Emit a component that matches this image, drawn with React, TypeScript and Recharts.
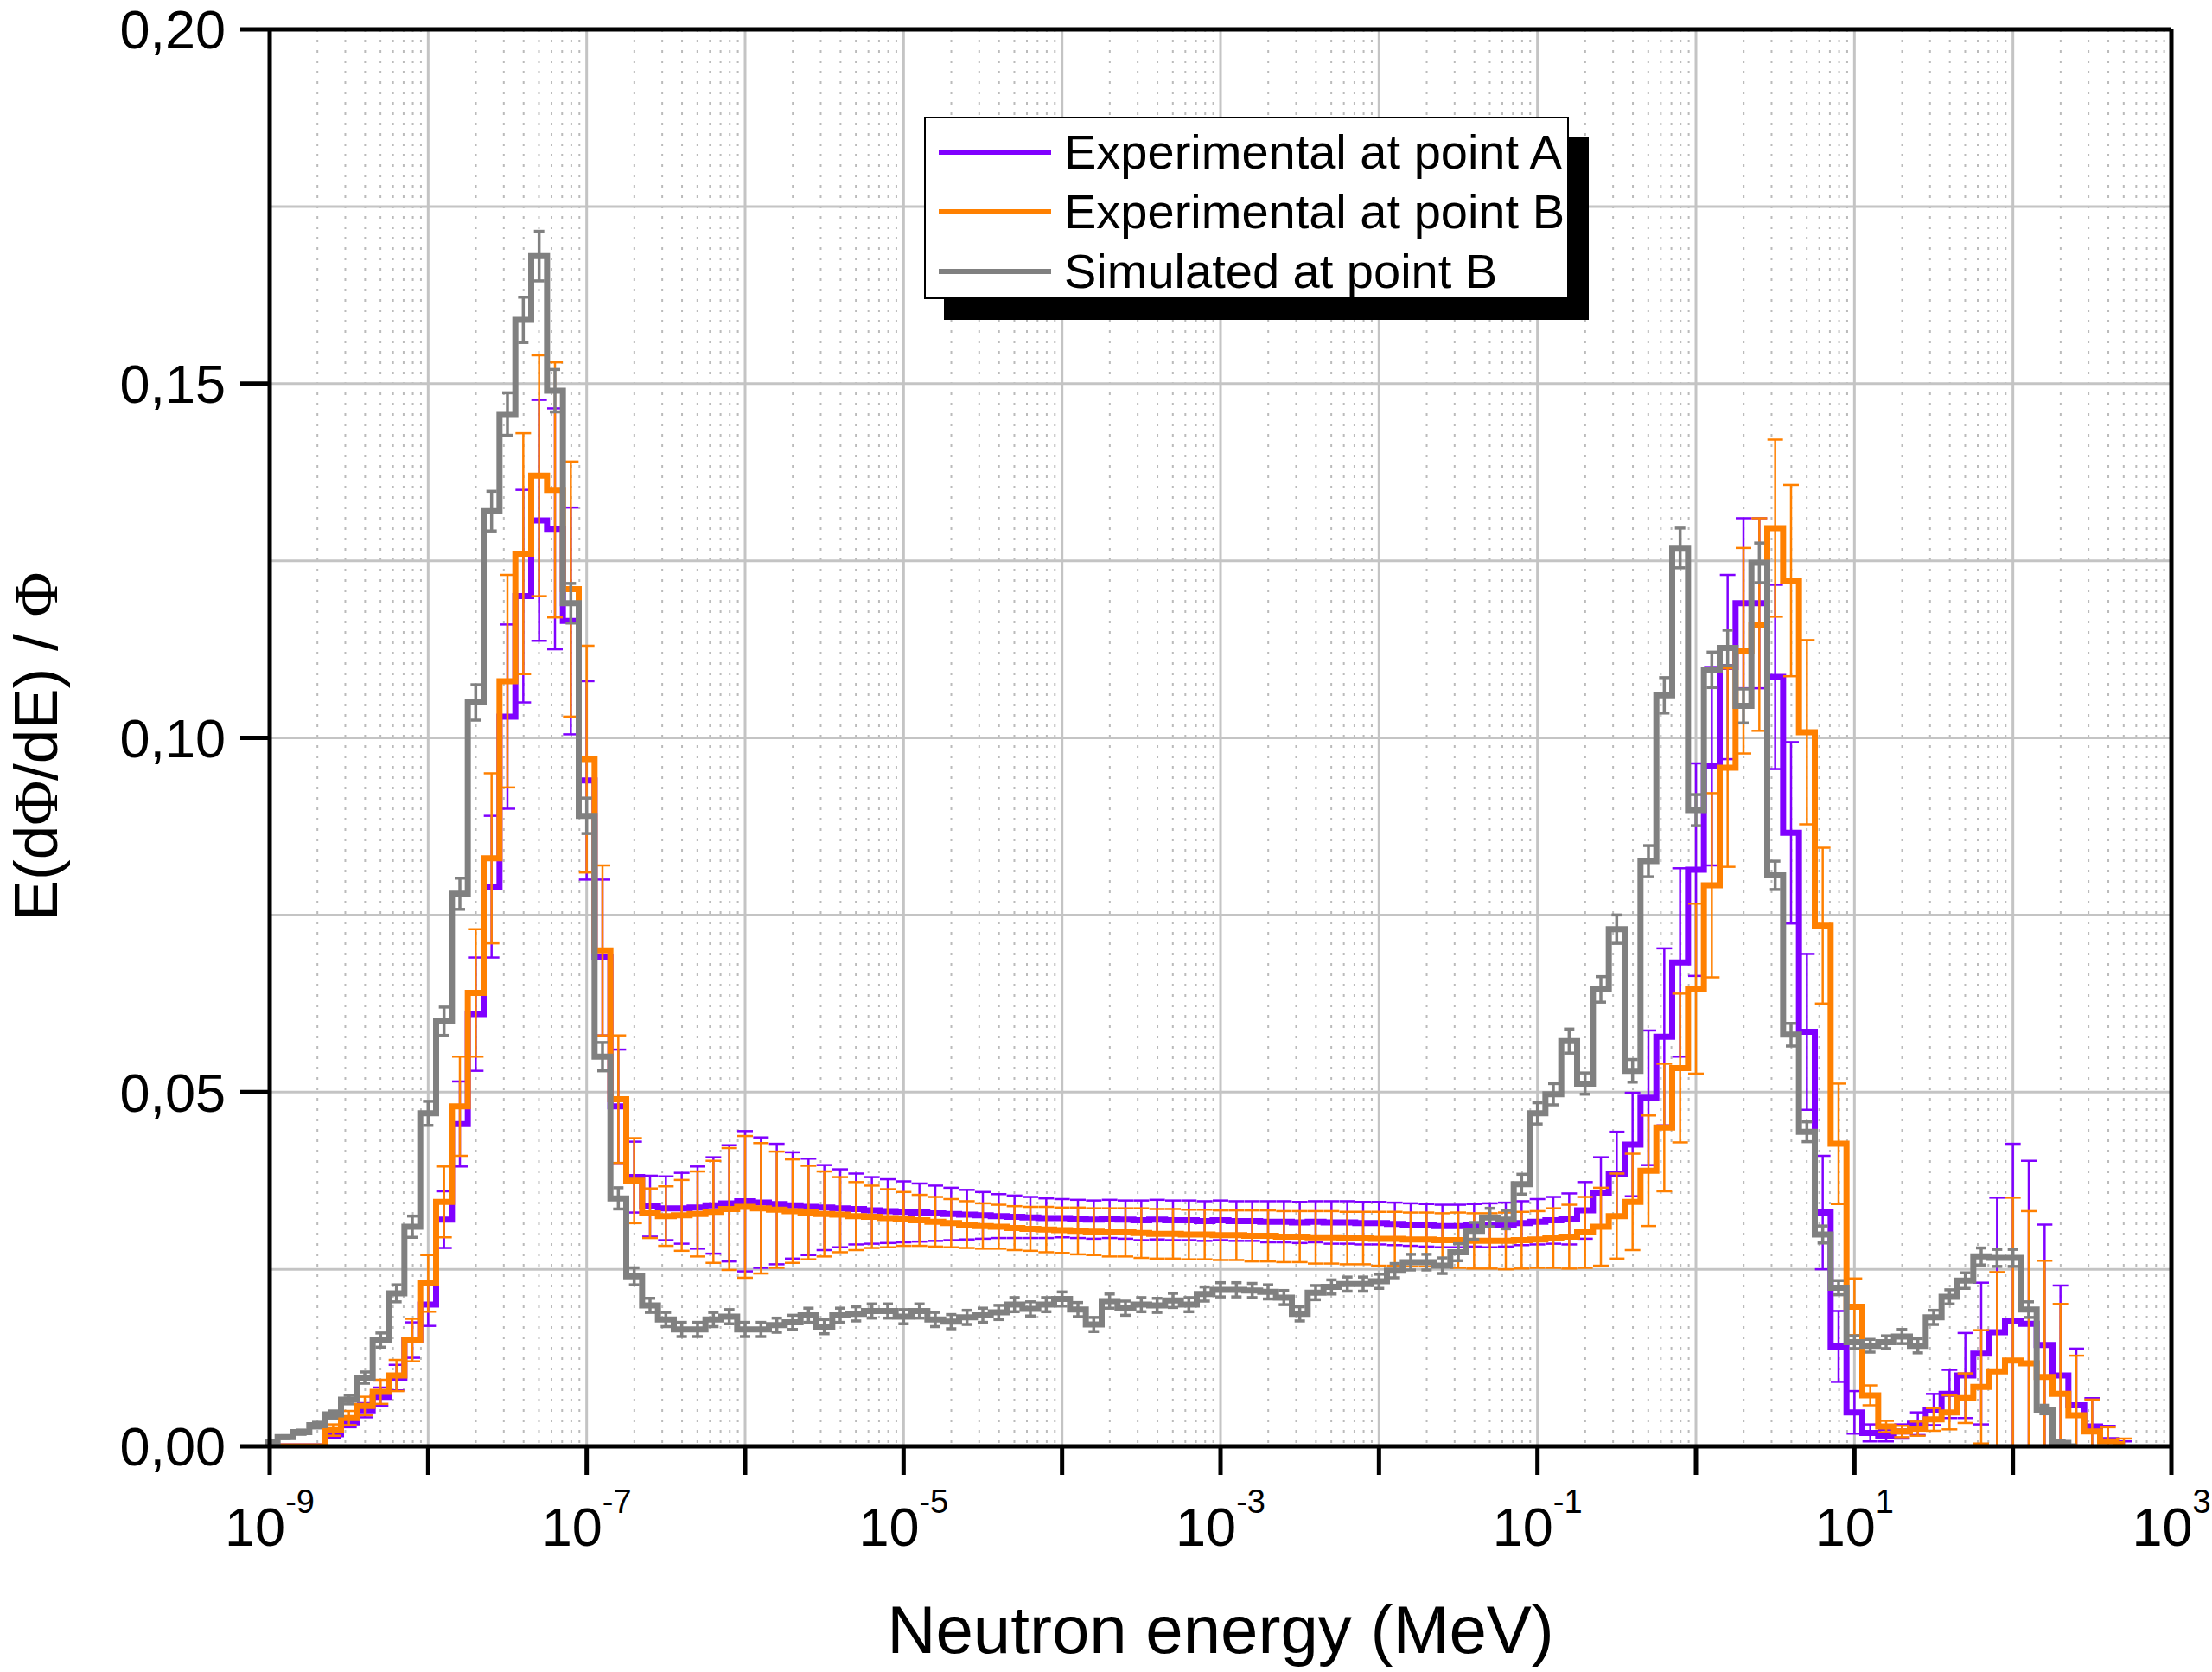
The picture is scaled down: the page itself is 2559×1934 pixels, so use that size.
import React from 'react';
import { LineChart, Line, XAxis, YAxis, CartesianGrid, ErrorBar, Legend } from 'recharts';

const FONT = '"Liberation Sans", Arial, sans-serif';
const SERIF = '"Liberation Serif", "Times New Roman", serif';

const COLOR_A = '#8000ff';
const COLOR_B = '#ff8000';
const COLOR_SIM = '#808080';

const SERIES_NAMES = ['Experimental at point A', 'Experimental at point B', 'Simulated at point B'];

// bin centres, log10(E / MeV), 10 bins per decade
const LOG_E = [
  -9.0, -8.9, -8.8, -8.7, -8.6, -8.5, -8.4, -8.3, -8.2, -8.1,
  -8.0, -7.9, -7.8, -7.7, -7.6, -7.5, -7.4, -7.3, -7.2, -7.1,
  -7.0, -6.9, -6.8, -6.7, -6.6, -6.5, -6.4, -6.3, -6.2, -6.1,
  -6.0, -5.9, -5.8, -5.7, -5.6, -5.5, -5.4, -5.3, -5.2, -5.1,
  -5.0, -4.9, -4.8, -4.7, -4.6, -4.5, -4.4, -4.3, -4.2, -4.1,
  -4.0, -3.9, -3.8, -3.7, -3.6, -3.5, -3.4, -3.3, -3.2, -3.1,
  -3.0, -2.9, -2.8, -2.7, -2.6, -2.5, -2.4, -2.3, -2.2, -2.1,
  -2.0, -1.9, -1.8, -1.7, -1.6, -1.5, -1.4, -1.3, -1.2, -1.1,
  -1.0, -0.9, -0.8, -0.7, -0.6, -0.5, -0.4, -0.3, -0.2, -0.1,
  0.0, 0.1, 0.2, 0.3, 0.4, 0.5, 0.6, 0.7, 0.8, 0.9,
  1.0, 1.1, 1.2, 1.3, 1.4, 1.5, 1.6, 1.7, 1.8, 1.9,
  2.0, 2.1, 2.2, 2.3, 2.4, 2.5, 2.6, 2.7,
];

// Experimental at point A (purple)
const EXP_A = [
  0, 0, 0, 0, 0.0017, 0.0034, 0.0051, 0.007, 0.0097, 0.015,
  0.020, 0.032, 0.0455, 0.061, 0.079, 0.103, 0.120, 0.1307, 0.1295, 0.1165,
  0.094, 0.069, 0.048, 0.038, 0.0339, 0.0336, 0.0336, 0.0337, 0.034, 0.0343,
  0.0346, 0.0344, 0.0342, 0.034, 0.0338, 0.0337, 0.0336, 0.0335, 0.0333, 0.0332,
  0.0331, 0.033, 0.0329, 0.0328, 0.0327, 0.0326, 0.0325, 0.0324, 0.0323, 0.0322,
  0.0322, 0.0321, 0.032, 0.0321, 0.032, 0.0319, 0.032, 0.0319, 0.0319, 0.0318,
  0.0319, 0.0318, 0.0318, 0.0317, 0.0317, 0.0316, 0.0317, 0.0316, 0.0316, 0.0315,
  0.0315, 0.0314, 0.0313, 0.0312, 0.0311, 0.0311, 0.0312, 0.0312, 0.0313, 0.0315,
  0.0317, 0.0319, 0.0321, 0.0333, 0.0358, 0.0384, 0.0426, 0.0492, 0.0578, 0.0683,
  0.0814, 0.096, 0.110, 0.119, 0.119, 0.1086, 0.0866, 0.0585, 0.033, 0.0141,
  0.0048, 0.0019, 0.0015, 0.0021, 0.0032, 0.0052, 0.0074, 0.010, 0.0131, 0.0161,
  0.0177, 0.0173, 0.0143, 0.010, 0.0058, 0.0028, 0.0009, 0.0002,
];
const EXP_A_ERR = [
  0, 0, 0, 0, 0.0005, 0.0007, 0.001, 0.0013, 0.0018, 0.0025,
  0.003, 0.004, 0.006, 0.008, 0.010, 0.013, 0.015, 0.017, 0.017, 0.016,
  0.014, 0.011, 0.008, 0.005, 0.0043, 0.0045, 0.005, 0.0058, 0.0068, 0.0082,
  0.0099, 0.0092, 0.0085, 0.0075, 0.0068, 0.006, 0.0055, 0.005, 0.0047, 0.0045,
  0.0043, 0.0041, 0.0039, 0.0037, 0.0035, 0.0033, 0.0031, 0.003, 0.0029, 0.0028,
  0.0027, 0.0027, 0.0027, 0.0027, 0.0027, 0.0028, 0.0028, 0.0028, 0.0028, 0.0028,
  0.0028, 0.0028, 0.0028, 0.0029, 0.0029, 0.0029, 0.0029, 0.003, 0.003, 0.003,
  0.003, 0.003, 0.003, 0.003, 0.003, 0.003, 0.003, 0.0031, 0.0031, 0.0031,
  0.0032, 0.0033, 0.0036, 0.004, 0.005, 0.006, 0.0073, 0.0095, 0.0125, 0.0133,
  0.015, 0.014, 0.013, 0.012, 0.012, 0.013, 0.0128, 0.011, 0.008, 0.005,
  0.003, 0.0012, 0.0008, 0.001, 0.0016, 0.0022, 0.0034, 0.006, 0.010, 0.019,
  0.025, 0.023, 0.017, 0.0127, 0.008, 0.004, 0.002, 0.0005,
];

// Experimental at point B (orange)
const EXP_B = [
  0, 0, 0, 0, 0.0023, 0.004, 0.0057, 0.0077, 0.010, 0.015,
  0.023, 0.0345, 0.048, 0.064, 0.083, 0.108, 0.126, 0.137, 0.135, 0.121,
  0.097, 0.070, 0.049, 0.0375, 0.0329, 0.0325, 0.0326, 0.0328, 0.0331, 0.0335,
  0.0338, 0.0336, 0.0334, 0.0332, 0.033, 0.0328, 0.0327, 0.0325, 0.0324, 0.0322,
  0.0321, 0.0319, 0.0317, 0.0315, 0.0313, 0.0311, 0.031, 0.0308, 0.0307, 0.0306,
  0.0305, 0.0304, 0.0303, 0.0302, 0.0302, 0.0301, 0.030, 0.030, 0.0299, 0.0299,
  0.0298, 0.0298, 0.0297, 0.0297, 0.0296, 0.0296, 0.0295, 0.0295, 0.0294, 0.0294,
  0.0293, 0.0293, 0.0292, 0.0292, 0.0291, 0.0291, 0.029, 0.029, 0.029, 0.0291,
  0.0292, 0.0294, 0.0296, 0.0302, 0.031, 0.0325, 0.0345, 0.0389, 0.045, 0.0534,
  0.0646, 0.0792, 0.0958, 0.1123, 0.116, 0.1296, 0.1222, 0.1008, 0.0735, 0.0427,
  0.0197, 0.0072, 0.0028, 0.0021, 0.0025, 0.0038, 0.0048, 0.0068, 0.0084, 0.0106,
  0.0121, 0.0117, 0.0098, 0.0074, 0.0044, 0.0021, 0.0007, 0.0003,
];
const EXP_B_ERR = [
  0, 0, 0, 0, 0.0008, 0.001, 0.0013, 0.0017, 0.0022, 0.003,
  0.004, 0.005, 0.007, 0.009, 0.012, 0.015, 0.017, 0.017, 0.018, 0.018,
  0.016, 0.012, 0.009, 0.006, 0.0035, 0.0042, 0.005, 0.006, 0.0072, 0.0086,
  0.010, 0.0092, 0.0082, 0.0073, 0.0066, 0.006, 0.0053, 0.0048, 0.0044, 0.0041,
  0.0038, 0.0036, 0.0035, 0.0034, 0.0033, 0.0032, 0.0031, 0.0031, 0.0031, 0.0032,
  0.0032, 0.0033, 0.0033, 0.0034, 0.0034, 0.0035, 0.0035, 0.0035, 0.0035, 0.0035,
  0.0035, 0.0035, 0.0036, 0.0036, 0.0036, 0.0036, 0.0037, 0.0037, 0.0037, 0.0037,
  0.0038, 0.0038, 0.0038, 0.0038, 0.0038, 0.0039, 0.0039, 0.0039, 0.004, 0.004,
  0.004, 0.0042, 0.0045, 0.005, 0.0055, 0.006, 0.0068, 0.0078, 0.009, 0.0105,
  0.012, 0.013, 0.014, 0.0145, 0.015, 0.0125, 0.0135, 0.013, 0.011, 0.0085,
  0.004, 0.0014, 0.0008, 0.0008, 0.001, 0.0016, 0.0024, 0.0035, 0.008, 0.014,
  0.023, 0.0215, 0.0164, 0.0127, 0.0084, 0.0045, 0.002, 0.0008,
];

// Simulated at point B (grey), ends at bin 114
const SIM_B = [
  0.0006, 0.0013, 0.002, 0.003, 0.0045, 0.0066, 0.0097, 0.015, 0.0216, 0.031,
  0.047, 0.060, 0.078, 0.105, 0.132, 0.1457, 0.159, 0.168, 0.149, 0.119,
  0.089, 0.055, 0.035, 0.024, 0.0199, 0.0179, 0.0165, 0.0165, 0.0179, 0.0183,
  0.0165, 0.0165, 0.0171, 0.0175, 0.0185, 0.0169, 0.0185, 0.0187, 0.0191, 0.0191,
  0.0183, 0.0191, 0.0179, 0.0176, 0.0182, 0.0185, 0.0189, 0.020, 0.0194, 0.020,
  0.0208, 0.0193, 0.0172, 0.0205, 0.0195, 0.020, 0.0199, 0.0206, 0.020, 0.0215,
  0.0221, 0.0221, 0.022, 0.0218, 0.021, 0.0187, 0.0217, 0.0225, 0.0229, 0.0229,
  0.0233, 0.0248, 0.026, 0.026, 0.0255, 0.0274, 0.0304, 0.0323, 0.032, 0.037,
  0.047, 0.0497, 0.0572, 0.0512, 0.0645, 0.073, 0.053, 0.0826, 0.106, 0.1268,
  0.0898, 0.1096, 0.1127, 0.1045, 0.1247, 0.0806, 0.0581, 0.0444, 0.0299, 0.0224,
  0.0147, 0.0142, 0.0147, 0.0155, 0.0142, 0.0182, 0.0211, 0.0234, 0.0268, 0.0266,
  0.0266, 0.0193, 0.0052, 0.0005, 0,
];
const SIM_B_ERR = [
  0.0002, 0.0002, 0.0003, 0.0004, 0.0005, 0.0006, 0.0008, 0.001, 0.0012, 0.0015,
  0.0017, 0.002, 0.0022, 0.0025, 0.0028, 0.003, 0.0032, 0.0035, 0.003, 0.0028,
  0.0025, 0.002, 0.0015, 0.0012, 0.001, 0.001, 0.001, 0.001, 0.001, 0.001,
  0.001, 0.001, 0.001, 0.001, 0.001, 0.001, 0.001, 0.001, 0.001, 0.001,
  0.001, 0.001, 0.001, 0.001, 0.001, 0.001, 0.001, 0.001, 0.001, 0.001,
  0.001, 0.001, 0.001, 0.001, 0.001, 0.001, 0.001, 0.001, 0.001, 0.001,
  0.001, 0.001, 0.001, 0.001, 0.001, 0.001, 0.001, 0.001, 0.001, 0.001,
  0.001, 0.001, 0.0011, 0.0011, 0.0011, 0.0012, 0.0012, 0.0013, 0.0013, 0.0014,
  0.0015, 0.0015, 0.0017, 0.0015, 0.0018, 0.002, 0.0016, 0.0022, 0.0025, 0.0028,
  0.0022, 0.0025, 0.0025, 0.0024, 0.0028, 0.002, 0.0016, 0.0014, 0.0012, 0.001,
  0.0009, 0.0009, 0.0009, 0.001, 0.001, 0.001, 0.001, 0.0011, 0.0012, 0.0012,
  0.0012, 0.0011, 0.0006, 0.0003, 0,
];

// axes
const DECADE_EXPS = [-9, -8, -7, -6, -5, -4, -3, -2, -1, 0, 1, 2, 3];
const LABELLED_EXPS = [-9, -7, -5, -3, -1, 1, 3];
const MINOR_MULTS = [2, 3, 4, 5, 6, 7, 8, 9];
const Y_MAJOR = [0, 0.05, 0.1, 0.15, 0.2];
const Y_MAJOR_LABELS = ['0,00', '0,05', '0,10', '0,15', '0,20'];
const Y_MINOR = [0.025, 0.075, 0.125, 0.175];

const X_DOMAIN = [1e-9, 1e3];
const Y_DOMAIN = [0, 0.2];
const DECADES = DECADE_EXPS.map(p => Math.pow(10, p));
const MINORS = DECADE_EXPS.slice(0, -1).flatMap(p => MINOR_MULTS.map(m => m * Math.pow(10, p)));
const Y_GRID = [...Y_MAJOR, ...Y_MINOR].sort((a, b) => a - b);

// error bars are clipped at zero like in the original plot
const lowHigh = (v: number, e: number) => [Math.min(e, v), e];

const expTable = LOG_E.map((le, i) => ({
  e: Math.pow(10, le),
  a: EXP_A[i],
  aErr: lowHigh(EXP_A[i], EXP_A_ERR[i]),
  b: EXP_B[i],
  bErr: lowHigh(EXP_B[i], EXP_B_ERR[i]),
}));
const simTable = SIM_B.map((v, i) => ({
  e: Math.pow(10, LOG_E[i]),
  s: v,
  sErr: lowHigh(v, SIM_B_ERR[i]),
}));

const axisLine = { stroke: '#000', strokeWidth: 5 };
const majorTick = { stroke: '#000', strokeWidth: 5 };
const minorTick = { stroke: '#000', strokeWidth: 4 };

const XTick = (props: any) => {
  const { x, y, payload } = props;
  const p = Math.round(Math.log10(payload.value));
  if (!LABELLED_EXPS.includes(p)) return <g />;
  return (
    <text x={x} y={y + 80} textAnchor="middle" fontSize={63} fontFamily={FONT} fill="#000">
      10<tspan dy={-38} fontSize={38}>{String(p)}</tspan>
    </text>
  );
};

const XTitle = (props: any) => {
  const vb = props.viewBox || { x: 312, y: 1673, width: 2198 };
  return (
    <text x={vb.x + vb.width / 2} y={1912} textAnchor="middle" fontSize={78} fontFamily={FONT} fill="#000">
      Neutron energy (MeV)
    </text>
  );
};

const YTitle = (props: any) => {
  const vb = props.viewBox || { x: 312, y: 36, height: 1637 };
  const cy = vb.y + vb.height / 2 + 10;
  return (
    <text transform={`translate(66, ${cy}) rotate(-90)`} textAnchor="middle" fontSize={71} fontFamily={FONT} fill="#000">
      E(d<tspan fontFamily={SERIF}>Φ</tspan>/dE) / <tspan fontFamily={SERIF}>Φ</tspan>
    </text>
  );
};

const LegendBox = (props: any) => {
  const items = props.payload || [];
  return (
    <div
      style={{
        width: 746,
        height: 211,
        boxSizing: 'border-box',
        border: '2px solid #000',
        background: '#fff',
        boxShadow: '23px 24px 0 0 #000',
        paddingTop: 4,
        fontFamily: FONT,
      }}
    >
      {items.map((it: any) => (
        <div key={it.value} style={{ display: 'flex', alignItems: 'center', height: 69 }}>
          <div style={{ marginLeft: 15, width: 130, height: 6, background: it.color }} />
          <div style={{ marginLeft: 15, fontSize: 56, lineHeight: 1, whiteSpace: 'nowrap', color: '#000' }}>{it.value}</div>
        </div>
      ))}
    </div>
  );
};

export default function App() {
  return (
    <div style={{ position: 'absolute', left: 0, top: 0, background: '#fff' }}>
      <LineChart width={2559} height={1934} data={expTable} margin={{ top: 34, right: 47, bottom: 259, left: 310 }}>
        <CartesianGrid xAxisId="x" yAxisId="y" horizontal={false} verticalValues={MINORS}
          stroke="#bbbbbb" strokeWidth={2} strokeDasharray="3 9" />
        <CartesianGrid xAxisId="x" yAxisId="y" verticalValues={DECADES} horizontalValues={Y_GRID}
          stroke="#c4c4c4" strokeWidth={3} />

        <XAxis xAxisId="x" dataKey="e" type="number" scale="log" domain={X_DOMAIN} allowDataOverflow ticks={DECADES}
          interval={0} height={1} tickSize={33} axisLine={axisLine} tickLine={majorTick} tick={<XTick />}
          label={<XTitle />} />
        <XAxis xAxisId="xMinor" dataKey="e" type="number" scale="log" domain={X_DOMAIN} allowDataOverflow ticks={MINORS}
          interval={0} height={1} tickSize={18} axisLine={false} tickLine={minorTick} tick={false} />
        <XAxis xAxisId="xTop" orientation="top" mirror dataKey="e" type="number" scale="log" domain={X_DOMAIN} allowDataOverflow
          ticks={DECADES} interval={0} height={1} tickSize={30} axisLine={axisLine} tickLine={majorTick} tick={false} />
        <XAxis xAxisId="xTopMinor" orientation="top" mirror dataKey="e" type="number" scale="log" domain={X_DOMAIN} allowDataOverflow
          ticks={MINORS} interval={0} height={1} tickSize={16} axisLine={false} tickLine={minorTick} tick={false} />

        <YAxis yAxisId="y" type="number" domain={Y_DOMAIN} allowDataOverflow ticks={Y_MAJOR} interval={0} width={1}
          tickSize={34} tickMargin={17} axisLine={axisLine} tickLine={majorTick}
          tick={{ fill: '#000', fontSize: 63, fontFamily: FONT }}
          tickFormatter={(v: number) => Y_MAJOR_LABELS[Y_MAJOR.indexOf(v)] ?? ''}
          label={<YTitle />} />
        <YAxis yAxisId="yMinor" type="number" domain={Y_DOMAIN} allowDataOverflow ticks={Y_MINOR} interval={0} width={1}
          tickSize={19} axisLine={false} tickLine={minorTick} tick={false} />
        <YAxis yAxisId="yRight" orientation="right" mirror type="number" domain={Y_DOMAIN} allowDataOverflow ticks={Y_MAJOR}
          interval={0} width={1} tickSize={33} axisLine={axisLine} tickLine={majorTick} tick={false} />
        <YAxis yAxisId="yRightMinor" orientation="right" mirror type="number" domain={Y_DOMAIN} allowDataOverflow ticks={Y_MINOR}
          interval={0} width={1} tickSize={16} axisLine={false} tickLine={minorTick} tick={false} />

        <Line xAxisId="x" yAxisId="y" name={SERIES_NAMES[0]} dataKey="a" type="step" stroke={COLOR_A} strokeWidth={7}
          dot={false} activeDot={false} isAnimationActive={false}>
          <ErrorBar dataKey="aErr" direction="y" width={9} stroke={COLOR_A} strokeWidth={2.5} isAnimationActive={false} />
        </Line>
        <Line xAxisId="x" yAxisId="y" name={SERIES_NAMES[1]} dataKey="b" type="step" stroke={COLOR_B} strokeWidth={7}
          dot={false} activeDot={false} isAnimationActive={false}>
          <ErrorBar dataKey="bErr" direction="y" width={9} stroke={COLOR_B} strokeWidth={2.5} isAnimationActive={false} />
        </Line>
        <Line xAxisId="x" yAxisId="y" name={SERIES_NAMES[2]} data={simTable} dataKey="s" type="step" stroke={COLOR_SIM} strokeWidth={7}
          dot={false} activeDot={false} isAnimationActive={false}>
          <ErrorBar dataKey="sErr" direction="y" width={6} stroke={COLOR_SIM} strokeWidth={3.5} isAnimationActive={false} />
        </Line>

        <Legend layout="horizontal" verticalAlign="middle" align="center" content={<LegendBox />}
          wrapperStyle={{ left: 1069, top: 135, width: 746, height: 211 }} />
      </LineChart>
    </div>
  );
}
